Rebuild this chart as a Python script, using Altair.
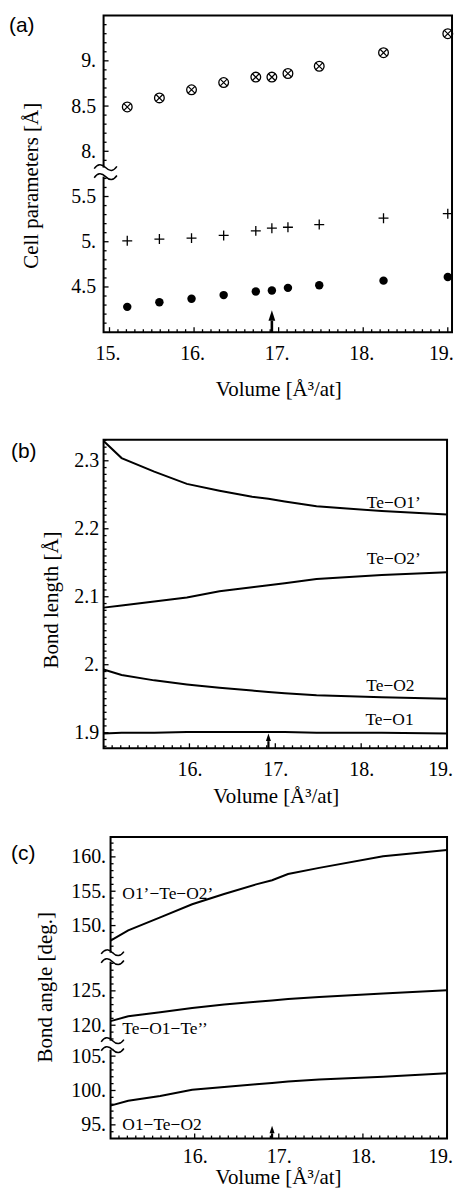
import altair as alt
import pandas as pd

# ---------------- values ----------------
volume_pts = [15.21, 15.59, 15.97, 16.35, 16.73, 16.92, 17.11, 17.48, 18.24, 19.00]
cell_c = [8.49, 8.59, 8.68, 8.76, 8.82, 8.82, 8.86, 8.94, 9.09, 9.30]
cell_b = [5.01, 5.03, 5.04, 5.07, 5.12, 5.15, 5.16, 5.19, 5.26, 5.31]
cell_a = [4.28, 4.33, 4.37, 4.41, 4.45, 4.46, 4.49, 4.52, 4.57, 4.61]

volume_lines = [15.00, 15.21, 15.59, 15.97, 16.35, 16.73, 16.92, 17.11, 17.48, 18.24, 19.00]
bond_TeO1p = [2.329, 2.304, 2.284, 2.266, 2.256, 2.247, 2.244, 2.240, 2.233, 2.226, 2.221]
bond_TeO2p = [2.084, 2.087, 2.093, 2.099, 2.108, 2.114, 2.117, 2.120, 2.126, 2.132, 2.136]
bond_TeO2 = [1.993, 1.985, 1.977, 1.971, 1.966, 1.962, 1.960, 1.958, 1.955, 1.952, 1.950]
bond_TeO1 = [1.899, 1.900, 1.900, 1.901, 1.901, 1.901, 1.901, 1.901, 1.900, 1.900, 1.899]

ang_O1pTeO2p = [147.8, 149.3, 151.2, 153.1, 154.6, 156.0, 156.6, 157.5, 158.4, 160.1, 161.0]
ang_TeO1Te = [120.6, 121.3, 121.9, 122.5, 123.0, 123.4, 123.6, 123.8, 124.1, 124.6, 125.1]
ang_O1TeO2 = [97.8, 98.5, 99.2, 100.1, 100.5, 100.9, 101.1, 101.3, 101.6, 102.0, 102.5]

exp_volume = 16.92  # arrow position

# tick values / labels
a_x_ticks = [15, 16, 17, 18, 19]
a_x_labels = ["15.", "16.", "17.", "18.", "19."]
a_y_ticks = [4.5, 5.0, 5.5, 8.0, 8.5, 9.0]
a_y_labels = ["4.5", "5.", "5.5", "8.", "8.5", "9."]
b_x_ticks = [16, 17, 18, 19]
b_x_labels = ["16.", "17.", "18.", "19."]
b_y_ticks = [1.9, 2.0, 2.1, 2.2, 2.3]
b_y_labels = ["1.9", "2.", "2.1", "2.2", "2.3"]
c_x_ticks = [16, 17, 18, 19]
c_x_labels = ["16.", "17.", "18.", "19."]
c_y_ticks = [95, 100, 105, 120, 125, 150, 155, 160]
c_y_labels = ["95.", "100.", "105.", "120.", "125.", "150.", "155.", "160."]

# curve names
b_names = ["Te\u2212O1\u2019", "Te\u2212O2\u2019", "Te\u2212O2", "Te\u2212O1"]
c_names = ["O1\u2019\u2212Te\u2212O2\u2019", "Te\u2212O1\u2212Te\u2019\u2019", "O1\u2212Te\u2212O2"]

# ---------------- layout / style ----------------
SERIF = "Liberation Serif"
SANS = "Liberation Sans"
W_A, H_A = 350, 318
W_B, H_B = 345, 310
W_C, H_C = 345, 303
A_XDOM = [14.93, 19.05]
A_YDOM = [4.0, 7.5]
B_XDOM = [15.0, 19.0]
B_YDOM = [1.877, 2.331]
C_XDOM = [14.917, 19.0]
C_YDOM = [93.0, 136.9]
C_X0 = (15.0 - C_XDOM[0]) / (C_XDOM[1] - C_XDOM[0]) * W_C  # frame left of panel (c)

# broken axes: (low, high, offset) in real units
A_SEGS = [(3.0, 5.77, 0.0), (7.77, 10.0, 2.0)]
A_BREAKS = [5.77]
C_SEGS = [(80.0, 106.6, 0.0), (117.1, 129.9, 10.5), (145.4, 170.0, 26.0)]
C_BREAKS = [106.6, 119.4]


def seg_offset(v, segs):
    for lo, hi, off in segs:
        if lo <= v <= hi:
            return off
    return 0.0


def disp(v, segs):
    return v - seg_offset(v, segs)


def lab_expr(vals, labels):
    parts = [f"datum.value == {v!r} ? '{l}'" for v, l in zip(vals, labels)]
    return " : ".join(parts) + " : ''"


def last_label_offset(last, shift, base):
    # pull the right-most label inside the picture
    return {"condition": {"test": f"datum.value == {last}", "value": shift}, "value": base}


def minor(start, step, n, majors, nd):
    maj = {round(m, nd) for m in majors}
    out = []
    for i in range(n):
        v = round(start + step * i, nd)
        if v not in maj:
            out.append(v)
    return out


one = pd.DataFrame({"k": [0]})
X_PATH = "M-0.7,-0.7L0.7,0.7M-0.7,0.7L0.7,-0.7"
PLUS_PATH = "M-1,0L1,0M0,-1L0,1"
HEAD_PATH = "M0,-1L0.65,1L-0.65,1Z"
WAVE_PATH = "M-1,0.1C-0.7,-0.35,-0.35,-0.35,0,0C0.35,0.35,0.7,0.35,1,-0.1"


def decorations(xs, ys, axx, axy, W, H, x0, x1, ymaj, ymin, xmaj, xmin, breaks, brk_d,
                arrow_len, head_size, arrow_w):
    layers = []
    # frame
    layers.append(alt.Chart(one).mark_rect(filled=False, stroke="black", strokeWidth=2).encode(
        x=alt.value(x0), x2=alt.value(x1), y=alt.value(0), y2=alt.value(H)))
    # inward ticks
    for vals, ln in [(ymaj, 5), (ymin, 3)]:
        layers.append(alt.Chart(pd.DataFrame({"t": vals})).mark_rule(color="black", strokeWidth=1.3).encode(
            y=alt.Y("t:Q", scale=ys, axis=axy), x=alt.value(x0), x2=alt.value(x0 + ln)))
    for vals, ln in [(xmaj, 5), (xmin, 3)]:
        layers.append(alt.Chart(pd.DataFrame({"t": vals})).mark_rule(color="black", strokeWidth=1.3).encode(
            x=alt.X("t:Q", scale=xs, axis=axx), y=alt.value(H), y2=alt.value(H - ln)))
    # axis breaks
    for b in breaks:
        layers.append(alt.Chart(pd.DataFrame({"lo": [b - brk_d], "hi": [b + brk_d]})).mark_rect(
            color="white", opacity=1).encode(
            y=alt.Y("lo:Q", scale=ys, axis=axy), y2="hi:Q",
            x=alt.value(x0 - 3), x2=alt.value(x0 + 3)))
        layers.append(alt.Chart(pd.DataFrame({"w": [b - brk_d, b + brk_d]})).mark_point(
            shape=WAVE_PATH, filled=False, stroke="black", strokeWidth=1.5, size=520, opacity=1).encode(
            y=alt.Y("w:Q", scale=ys, axis=axy), x=alt.value(x0 + 2)))
    # arrow marking experimental volume
    r = (head_size ** 0.5) / 2
    layers.append(alt.Chart(pd.DataFrame({"v": [exp_volume]})).mark_rule(color="black", strokeWidth=arrow_w).encode(
        x=alt.X("v:Q", scale=xs, axis=axx), y=alt.value(H), y2=alt.value(H - arrow_len + 2 * r)))
    layers.append(alt.Chart(pd.DataFrame({"v": [exp_volume]})).mark_point(
        shape=HEAD_PATH, filled=True, color="black", size=head_size, opacity=1).encode(
        x=alt.X("v:Q", scale=xs, axis=axx), y=alt.value(H - arrow_len + r)))
    return layers


def text(t, x, y, size, font=SERIF, angle=0, align="center"):
    return alt.Chart(pd.DataFrame({"t": [t]})).mark_text(
        font=font, fontSize=size, color="black", angle=angle, align=align, baseline="middle").encode(
        text="t:N", x=alt.value(x), y=alt.value(y))


# ---------------- panel (a) ----------------
xs_a = alt.Scale(domain=A_XDOM, nice=False, zero=False)
ys_a = alt.Scale(domain=A_YDOM, nice=False, zero=False)
ax_a_x = alt.Axis(values=a_x_ticks, labelExpr=lab_expr(a_x_ticks, a_x_labels), labelPadding=11,
                  labelOffset=last_label_offset(19, -7, -2), title=None)
a_y_disp = [disp(v, A_SEGS) for v in a_y_ticks]
ax_a_y = alt.Axis(values=a_y_disp, labelExpr=lab_expr(a_y_disp, a_y_labels), labelPadding=8, title=None)

rows = []
for name, vals in [("c", cell_c), ("b", cell_b), ("a", cell_a)]:
    for v, p in zip(volume_pts, vals):
        rows.append({"volume": v, "value": p, "series": name, "offset": seg_offset(p, A_SEGS)})
base_a = alt.Chart(pd.DataFrame(rows)).transform_calculate(disp="datum.value - datum.offset")
enc_a = dict(x=alt.X("volume:Q", scale=xs_a, axis=ax_a_x), y=alt.Y("disp:Q", scale=ys_a, axis=ax_a_y))

a_y_minor = minor(4.1, 0.1, 17, a_y_ticks, 1) + minor(7.9, 0.1, 16, a_y_ticks, 1)
a_layers = decorations(
    xs_a, ys_a, ax_a_x, ax_a_y, W_A, H_A, 0, W_A,
    a_y_disp, [disp(v, A_SEGS) for v in a_y_minor],
    a_x_ticks, minor(15.0, 0.1, 41, a_x_ticks, 1),
    [disp(v, A_SEGS) for v in [5.77]], 0.05, 22, 110, 2.6)
a_layers += [
    base_a.transform_filter("datum.series == 'c'").mark_point(
        shape="circle", filled=False, stroke="black", strokeWidth=1.3, size=95, opacity=1).encode(**enc_a),
    base_a.transform_filter("datum.series == 'c'").mark_point(
        shape=X_PATH, filled=False, stroke="black", strokeWidth=1.2, size=95, opacity=1).encode(**enc_a),
    base_a.transform_filter("datum.series == 'b'").mark_point(
        shape=PLUS_PATH, filled=False, stroke="black", strokeWidth=1.3, size=100, opacity=1).encode(**enc_a),
    base_a.transform_filter("datum.series == 'a'").mark_point(
        shape="circle", filled=True, color="black", size=72, opacity=1).encode(**enc_a),
    text("(a)", -95, 10.5, 21, SANS, align="left"),
    text("Cell parameters [\u00c5]", -72, 171, 21, angle=270),
    text("Volume [\u00c5\u00b3/at]", 176, H_A + 58, 21),
]
panel_a = alt.layer(*a_layers).properties(width=W_A, height=H_A)

# ---------------- panel (b) ----------------
xs_b = alt.Scale(domain=B_XDOM, nice=False, zero=False)
ys_b = alt.Scale(domain=B_YDOM, nice=False, zero=False)
ax_b_x = alt.Axis(values=b_x_ticks, labelExpr=lab_expr(b_x_ticks, b_x_labels), labelPadding=11,
                  labelOffset=last_label_offset(19, -7, 0), title=None)
ax_b_y = alt.Axis(values=b_y_ticks, labelExpr=lab_expr(b_y_ticks, b_y_labels), labelPadding=5, title=None)

rows = []
for name, vals in zip(b_names, [bond_TeO1p, bond_TeO2p, bond_TeO2, bond_TeO1]):
    for v, p in zip(volume_lines, vals):
        rows.append({"volume": v, "value": p, "series": name})
b_lab = pd.DataFrame({"name": b_names, "x": [18.38, 18.38, 18.34, 18.33],
                      "y": [2.238, 2.155, 1.968, 1.918]})

b_layers = decorations(
    xs_b, ys_b, ax_b_x, ax_b_y, W_B, H_B, 0, W_B,
    b_y_ticks, [v for v in minor(1.88, 0.01, 46, b_y_ticks, 2) if v <= 2.33],
    b_x_ticks, minor(15.1, 0.1, 39, b_x_ticks, 1), [], 0, 15, 60, 2.2)
b_layers += [
    alt.Chart(pd.DataFrame(rows)).mark_line(color="black", strokeWidth=2).encode(
        x=alt.X("volume:Q", scale=xs_b, axis=ax_b_x), y=alt.Y("value:Q", scale=ys_b, axis=ax_b_y),
        detail="series:N"),
    alt.Chart(b_lab).mark_text(font=SERIF, fontSize=17.5, color="black", baseline="middle").encode(
        x=alt.X("x:Q", scale=xs_b, axis=ax_b_x), y=alt.Y("y:Q", scale=ys_b, axis=ax_b_y), text="name:N"),
    text("(b)", -93, 12, 21, SANS, align="left"),
    text("Bond length [\u00c5]", -52, 161, 21, angle=270),
    text("Volume [\u00c5\u00b3/at]", 173.5, H_B + 49, 21),
]
panel_b = alt.layer(*b_layers).properties(width=W_B, height=H_B)

# ---------------- panel (c) ----------------
xs_c = alt.Scale(domain=C_XDOM, nice=False, zero=False)
ys_c = alt.Scale(domain=C_YDOM, nice=False, zero=False)
c_y_disp = [disp(v, C_SEGS) for v in c_y_ticks]
ax_c_x = alt.Axis(values=c_x_ticks, labelExpr=lab_expr(c_x_ticks, c_x_labels), labelPadding=8,
                  labelOffset=last_label_offset(19, -7, 0), title=None)
ax_c_y = alt.Axis(values=c_y_disp, labelExpr=lab_expr(c_y_disp, c_y_labels), labelPadding=5,
                  offset=-C_X0, title=None)

rows = []
for name, vals in zip(c_names, [ang_O1pTeO2p, ang_TeO1Te, ang_O1TeO2]):
    for v, p in zip(volume_lines, vals):
        rows.append({"volume": v, "value": p, "series": name, "offset": seg_offset(p, C_SEGS)})
c_lab_y = [154.6, 119.4, 95.0]
c_lab = pd.DataFrame({"name": c_names, "x": [15.14] * 3, "y": c_lab_y,
                      "offset": [seg_offset(v, C_SEGS) for v in c_lab_y]})

c_y_minor = minor(94, 1, 13, c_y_ticks, 0) + minor(118, 1, 12, c_y_ticks, 0) + minor(146, 1, 17, c_y_ticks, 0)
c_layers = decorations(
    xs_c, ys_c, ax_c_x, ax_c_y, W_C, H_C, C_X0, W_C,
    c_y_disp, [disp(v, C_SEGS) for v in c_y_minor],
    c_x_ticks, minor(15.1, 0.1, 39, c_x_ticks, 1), C_BREAKS, 0.65, 13, 60, 2.2)
c_layers += [
    alt.Chart(pd.DataFrame(rows)).transform_calculate(disp="datum.value - datum.offset").mark_line(
        color="black", strokeWidth=2).encode(
        x=alt.X("volume:Q", scale=xs_c, axis=ax_c_x), y=alt.Y("disp:Q", scale=ys_c, axis=ax_c_y),
        detail="series:N"),
    alt.Chart(c_lab).transform_calculate(disp="datum.y - datum.offset").mark_text(
        font=SERIF, fontSize=17.5, color="black", baseline="middle", align="left").encode(
        x=alt.X("x:Q", scale=xs_c, axis=ax_c_x), y=alt.Y("disp:Q", scale=ys_c, axis=ax_c_y), text="name:N"),
    text("(c)", -93, 17, 21, SANS, align="left"),
    text("Bond angle [deg.]", -57.5, 151, 21, angle=270),
    text("Volume [\u00c5\u00b3/at]", 175.7, H_C + 40, 21),
]
panel_c = alt.layer(*c_layers).properties(width=W_C, height=H_C)


def spacer(h):
    return alt.Chart(one).mark_point(opacity=0).encode(x=alt.value(0), y=alt.value(0)).properties(
        width=1, height=h)


chart = alt.vconcat(
    panel_a, spacer(108), panel_b, spacer(89), panel_c, spacing=0, bounds="flush"
).properties(
    padding={"left": 1, "top": 4, "right": 0, "bottom": 0}
).configure_view(stroke=None).configure_axis(
    labelFont=SERIF, labelFontSize=20, labelColor="black", grid=False, domain=False,
    ticks=False, labelFlush=False, labelOverlap=False
)

chart.save("out.html", embed_options={"renderer": "svg", "actions": False})
